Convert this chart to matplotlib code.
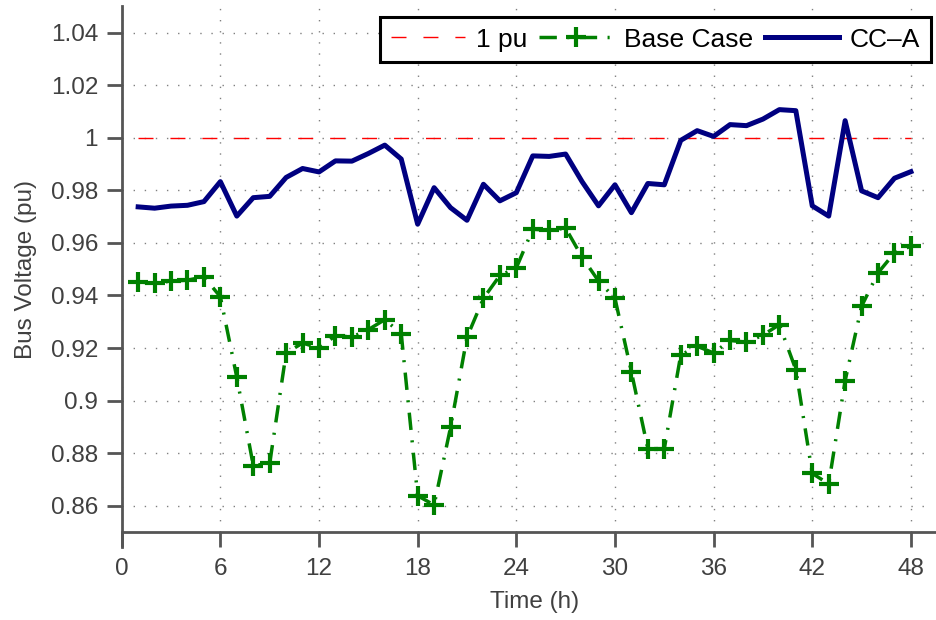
"""
Bus voltage over 48 h: base case vs CC-A, with 1 pu reference.
"""
import matplotlib
matplotlib.use("Agg")
import matplotlib.pyplot as plt
from matplotlib.ticker import FuncFormatter

hours = list(range(1, 49))

base_case = [
    0.9452, 0.9446, 0.9455, 0.9458, 0.9471, 0.9395, 0.9089, 0.8753, 0.8761, 0.9181,
    0.9219, 0.9200, 0.9247, 0.9242, 0.9270, 0.9308, 0.9255, 0.8638, 0.8603, 0.8898,
    0.9241, 0.9389, 0.9476, 0.9505, 0.9652, 0.9648, 0.9656, 0.9546, 0.9455, 0.9389,
    0.9109, 0.8817, 0.8817, 0.9173, 0.9207, 0.9181, 0.9229, 0.9222, 0.9249, 0.9289,
    0.9118, 0.8723, 0.8683, 0.9076, 0.9359, 0.9486, 0.9562, 0.9588,
]

cc_a = [
    0.9737, 0.9732, 0.9740, 0.9743, 0.9757, 0.9833, 0.9702, 0.9772, 0.9777, 0.9849,
    0.9883, 0.9870, 0.9912, 0.9911, 0.9940, 0.9972, 0.9919, 0.9671, 0.9810, 0.9734,
    0.9686, 0.9823, 0.9760, 0.9791, 0.9931, 0.9929, 0.9938, 0.9833, 0.9741, 0.9821,
    0.9715, 0.9826, 0.9821, 0.9990, 1.0027, 1.0005, 1.0050, 1.0046, 1.0071, 1.0107,
    1.0103, 0.9741, 0.9702, 1.0065, 0.9798, 0.9772, 0.9846, 0.9871,
]

ref_pu = [1.0] * len(hours)

x_ticks = list(range(0, 49, 6))
y_ticks = [0.86, 0.88, 0.90, 0.92, 0.94, 0.96, 0.98, 1.00, 1.02, 1.04]

plt.rcParams["font.family"] = ["Liberation Sans", "DejaVu Sans"]
plt.rcParams["font.size"] = 17.5

axis_grey = "#555555"
text_grey = "#404040"

fig = plt.figure(figsize=(9.37, 6.2), dpi=100)
ax = fig.add_axes([0.1299, 0.1419, 0.8598, 0.8479])

ax.plot(hours, ref_pu, color="red", lw=1.0, ls=(0, (10.8, 12.2)), label="1 pu", zorder=3)
ax.plot(hours, base_case, color="#008000", lw=2.5, ls=(0, (5.0, 3.0, 0.6, 3.0)),
        marker="+", markersize=14, markeredgewidth=3.0, label="Base Case", zorder=4)
ax.plot(hours, cc_a, color="#000080", lw=3.6, label="CC\u2013A", zorder=5)

ax.set_xlim(0, 49)
ax.set_ylim(0.85, 1.05)
ax.set_xticks(x_ticks)
ax.set_yticks(y_ticks)
ax.yaxis.set_major_formatter(FuncFormatter(lambda v, _: f"{v:g}"))

ax.grid(True, color="#808080", lw=1.0, ls=(0, (1, 7.0)))
ax.set_axisbelow(True)

for side in ("top", "right"):
    ax.spines[side].set_visible(False)
for side in ("left", "bottom"):
    ax.spines[side].set_color(axis_grey)
    ax.spines[side].set_linewidth(2.0)
ax.spines["left"].set_bounds(0.8443, 1.05)
ax.spines["bottom"].set_bounds(0, 50)

ax.tick_params(direction="out", length=11, width=2.0, color=axis_grey,
               labelcolor=text_grey)
ax.tick_params(axis="x", pad=8)
ax.tick_params(axis="y", pad=6)

ax.set_xlabel("Time (h)", color=text_grey)
ax.xaxis.set_label_coords(0.513, -0.112)
ax.set_ylabel("Bus Voltage (pu)", color=text_grey, labelpad=10)

leg = ax.legend(loc="upper right", bbox_to_anchor=(931 / 937, 1 - 17 / 620),
                bbox_transform=fig.transFigure, ncol=3, frameon=True, fancybox=False,
                framealpha=1, edgecolor="black", fontsize=19, handlelength=2.8,
                handletextpad=0.42, columnspacing=0.45, borderpad=0.4, borderaxespad=0)
leg.get_frame().set_linewidth(2.2)

fig.savefig("out.png", dpi=100)
